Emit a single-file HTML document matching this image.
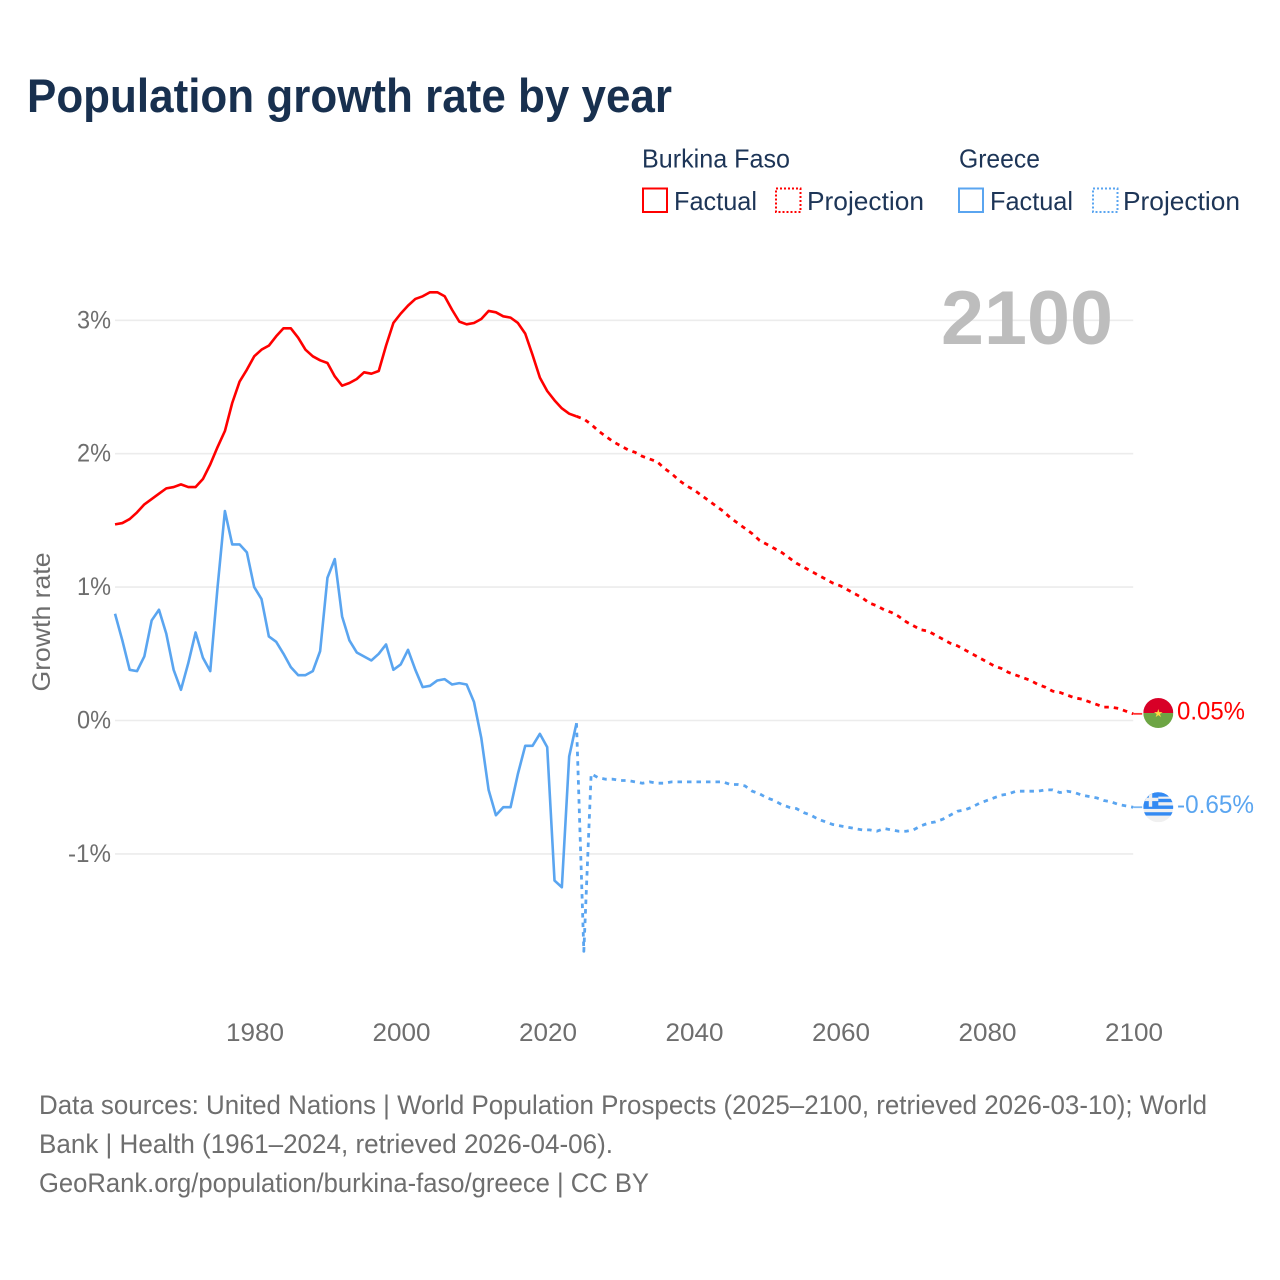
<!DOCTYPE html>
<html lang="en">
<head>
<meta charset="utf-8">
<title>Population growth rate by year</title>
<style>
html,body{margin:0;padding:0;background:#fff}
svg{display:block}
text{font-family:"Liberation Sans",sans-serif}
</style>
</head>
<body>
<svg id="chart" width="1280" height="1280" viewBox="0 0 1280 1280" xmlns="http://www.w3.org/2000/svg">
  <defs>
    <clipPath id="flag-clip-bf"><circle id="clip-bf" cx="1158" cy="713" r="15"></circle></clipPath>
    <clipPath id="flag-clip-gr"><circle id="clip-gr" cx="1158" cy="806" r="15"></circle></clipPath>
  </defs>
  <rect width="1280" height="1280" fill="#fff"></rect>
  <text x="27" y="112" font-size="47" font-weight="700" fill="#18304f" textLength="645" lengthAdjust="spacingAndGlyphs">Population growth rate by year</text>

  <g font-size="26" fill="#1d3557">
    <text x="642" y="167.5" textLength="148" lengthAdjust="spacingAndGlyphs">Burkina Faso</text>
    <text x="959" y="167.5" textLength="81" lengthAdjust="spacingAndGlyphs">Greece</text>
    <rect x="643" y="188.5" width="24" height="23.5" fill="none" stroke="#ff0000" stroke-width="2"></rect>
    <text x="674" y="210" textLength="83" lengthAdjust="spacingAndGlyphs">Factual</text>
    <rect x="776" y="188.5" width="24.5" height="23.5" fill="none" stroke="#ff0000" stroke-width="2" stroke-dasharray="2 2"></rect>
    <text x="807" y="210" textLength="117" lengthAdjust="spacingAndGlyphs">Projection</text>
    <rect x="959" y="188.5" width="24" height="23.5" fill="none" stroke="#5aa5f0" stroke-width="2"></rect>
    <text x="990" y="210" textLength="83" lengthAdjust="spacingAndGlyphs">Factual</text>
    <rect x="1093" y="188.5" width="24.5" height="23.5" fill="none" stroke="#5aa5f0" stroke-width="2" stroke-dasharray="2 2"></rect>
    <text x="1123" y="210" textLength="117" lengthAdjust="spacingAndGlyphs">Projection</text>
  </g>

  <g id="grid"></g>
  <g id="y-ticks"></g>
  <g id="x-ticks"></g>
  <text transform="translate(50,622) rotate(-90)" text-anchor="middle" font-size="25" fill="#6e6e6e" textLength="139" lengthAdjust="spacingAndGlyphs">Growth rate</text>
  <text x="941" y="344" font-size="76" font-weight="700" fill="#bdbdbd" textLength="172" lengthAdjust="spacingAndGlyphs">2100</text>

  <g id="series"></g>

  <g id="flag-bf" clip-path="url(#flag-clip-bf)"></g>
  <g id="flag-gr" clip-path="url(#flag-clip-gr)"></g>
  <g id="end-labels"></g>

  <g font-size="27" fill="#6e6e6e">
    <text x="39" y="1114" textLength="1168" lengthAdjust="spacingAndGlyphs">Data sources: United Nations | World Population Prospects (2025–2100, retrieved 2026-03-10); World</text>
    <text x="39" y="1153" textLength="574" lengthAdjust="spacingAndGlyphs">Bank | Health (1961–2024, retrieved 2026-04-06).</text>
    <text x="39" y="1192" textLength="610" lengthAdjust="spacingAndGlyphs">GeoRank.org/population/burkina-faso/greece | CC BY</text>
  </g>
</svg>

<script>
const factualStartYear = 1961;
const projectionStartYear = 2025;
const xTickYears = [1980, 2000, 2020, 2040, 2060, 2080, 2100];
const yTickValues = [3, 2, 1, 0, -1];
const yTickLabels = ["3%", "2%", "1%", "0%", "-1%"];

const burkinaFactual = [
  1.47,1.48,1.51,1.56,1.62,1.66,1.70,1.74,1.75,1.77,
  1.75,1.75,1.81,1.92,2.05,2.17,2.38,2.54,2.63,2.73,
  2.78,2.81,2.88,2.94,2.94,2.87,2.78,2.73,2.70,2.68,
  2.58,2.51,2.53,2.56,2.61,2.60,2.62,2.81,2.98,3.05,
  3.11,3.16,3.18,3.21,3.21,3.18,3.08,2.99,2.97,2.98,
  3.01,3.07,3.06,3.03,3.02,2.98,2.90,2.74,2.57,2.47,
  2.40,2.34,2.30,2.28
];
const burkinaProjection = [
  2.26,2.22,2.17,2.13,2.09,2.06,2.03,2.01,1.98,1.96,
  1.94,1.89,1.85,1.80,1.76,1.73,1.69,1.65,1.61,1.57,
  1.52,1.48,1.44,1.40,1.35,1.32,1.29,1.26,1.22,1.18,
  1.15,1.12,1.09,1.06,1.03,1.01,0.98,0.95,0.92,0.88,
  0.86,0.83,0.81,0.78,0.74,0.71,0.68,0.67,0.64,0.61,
  0.58,0.56,0.53,0.50,0.47,0.44,0.41,0.39,0.36,0.34,
  0.32,0.30,0.27,0.25,0.22,0.21,0.19,0.17,0.16,0.14,
  0.12,0.10,0.10,0.09,0.07,0.05
];
const greeceFactual = [
  0.80,0.60,0.38,0.37,0.48,0.75,0.83,0.65,0.38,0.23,
  0.43,0.66,0.47,0.37,1.00,1.57,1.32,1.32,1.26,1.00,
  0.91,0.63,0.59,0.50,0.40,0.34,0.34,0.37,0.52,1.07,
  1.21,0.78,0.60,0.51,0.48,0.45,0.50,0.57,0.38,0.42,
  0.53,0.38,0.25,0.26,0.30,0.31,0.27,0.28,0.27,0.14,
  -0.13,-0.52,-0.71,-0.65,-0.65,-0.40,-0.19,-0.19,-0.10,-0.20,
  -1.20,-1.25,-0.27,-0.02
];
const greeceProjection = [
  -1.73,-0.40,-0.43,-0.44,-0.44,-0.45,-0.45,-0.46,-0.47,-0.46,
  -0.47,-0.47,-0.46,-0.46,-0.46,-0.46,-0.46,-0.46,-0.46,-0.46,
  -0.48,-0.48,-0.49,-0.53,-0.55,-0.58,-0.60,-0.63,-0.65,-0.66,
  -0.69,-0.71,-0.74,-0.76,-0.78,-0.79,-0.80,-0.81,-0.82,-0.82,
  -0.83,-0.81,-0.82,-0.83,-0.83,-0.82,-0.79,-0.77,-0.76,-0.74,
  -0.71,-0.68,-0.67,-0.65,-0.62,-0.60,-0.58,-0.56,-0.55,-0.53,
  -0.53,-0.53,-0.53,-0.52,-0.52,-0.54,-0.53,-0.54,-0.56,-0.57,
  -0.58,-0.60,-0.61,-0.63,-0.64,-0.65
];

const SVG_NS = "http://www.w3.org/2000/svg";
const RED = "#ff0000";
const BLUE = "#5aa5f0";
const GREY = "#6e6e6e";

function xScale(year) { return 254.2 + (year - 1980) * 7.325; }
function yScale(value) { return 720.5 - value * 133.4; }
function make(tag) { return document.createElementNS(SVG_NS, tag); }
function toPoints(values, startYear) {
  return values.map(function (v, i) {
    return xScale(startYear + i).toFixed(2) + "," + yScale(v).toFixed(2);
  }).join(" ");
}
function drawSeries(el, values, startYear, color, dashed) {
  el.setAttribute("points", toPoints(values, startYear));
  el.setAttribute("fill", "none");
  el.setAttribute("stroke", color);
  el.setAttribute("stroke-width", dashed ? "2.8" : "2.6");
  el.setAttribute("stroke-linejoin", "round");
  if (dashed) el.setAttribute("stroke-dasharray", "4.5 5");
  document.getElementById("series").appendChild(el);
}
function fmtPct(v) { return v.toFixed(2) + "%"; }

/* gridlines and y ticks */
yTickValues.forEach(function (v, i) {
  const line = make("line");
  
  
  line.setAttribute("x1", xScale(1961));
  line.setAttribute("x2", xScale(2100));
  line.setAttribute("y1", yScale(v));
  line.setAttribute("y2", yScale(v));
  line.setAttribute("stroke", "#ececec");
  line.setAttribute("stroke-width", "1.6");
  document.getElementById("grid").appendChild(line);

  const t = make("text");
  
  
  t.setAttribute("x", 111);
  t.setAttribute("y", yScale(v) + 8);
  t.setAttribute("text-anchor", "end");
  t.setAttribute("font-size", "25");
  t.setAttribute("fill", GREY);
  t.setAttribute("textLength", v < 0 ? "43" : "34");
  t.setAttribute("lengthAdjust", "spacingAndGlyphs");
  t.textContent = yTickLabels[i];
  document.getElementById("y-ticks").appendChild(t);
});

/* x ticks */
xTickYears.forEach(function (yr) {
  const t = make("text");
  
  
  t.setAttribute("x", xScale(yr) + 0.8);
  t.setAttribute("y", 1041);
  t.setAttribute("text-anchor", "middle");
  t.setAttribute("font-size", "25");
  t.setAttribute("fill", GREY);
  t.setAttribute("textLength", "58");
  t.setAttribute("lengthAdjust", "spacingAndGlyphs");
  t.textContent = String(yr);
  document.getElementById("x-ticks").appendChild(t);
});

/* series */
const lastBf = burkinaFactual[burkinaFactual.length - 1];
const lastGrF = greeceFactual[greeceFactual.length - 1];
const endBf = burkinaProjection[burkinaProjection.length - 1];
const endGr = greeceProjection[greeceProjection.length - 1];

const lineBfFactual = make("polyline");


drawSeries(lineBfFactual, burkinaFactual, factualStartYear, RED, false);

const lineBfProj = make("polyline");


drawSeries(lineBfProj, [lastBf].concat(burkinaProjection), projectionStartYear - 1, RED, true);

const lineGrFactual = make("polyline");


drawSeries(lineGrFactual, greeceFactual, factualStartYear, BLUE, false);

const lineGrProj = make("polyline");


drawSeries(lineGrProj, [lastGrF].concat(greeceProjection), projectionStartYear - 1, BLUE, true);

/* connectors from line end to the flag */
function connector(el, v, color) {
  el.setAttribute("x1", xScale(2100));
  el.setAttribute("x2", xScale(2100) + 9);
  el.setAttribute("y1", yScale(v));
  el.setAttribute("y2", yScale(v));
  el.setAttribute("stroke", color);
  el.setAttribute("stroke-width", "1.8");
  el.setAttribute("stroke-opacity", "0.8");
  document.getElementById("series").appendChild(el);
}
const connBf = make("line");


connector(connBf, endBf, RED);
const connGr = make("line");


connector(connGr, endGr, BLUE);

/* flags */
const flagX = xScale(2100) + 25.1;
const bfY = yScale(endBf) - 0.8;
const grY = yScale(endGr);
document.getElementById("clip-bf").setAttribute("cx", flagX);
document.getElementById("clip-bf").setAttribute("cy", bfY);
document.getElementById("clip-gr").setAttribute("cx", flagX);
document.getElementById("clip-gr").setAttribute("cy", grY);

function rectIn(el, parent, x, y, w, h, fill) {
  el.setAttribute("x", x);
  el.setAttribute("y", y);
  el.setAttribute("width", w);
  el.setAttribute("height", h);
  el.setAttribute("fill", fill);
  parent.appendChild(el);
}
const flagBf = document.getElementById("flag-bf");
const bfTop = make("rect");


rectIn(bfTop, flagBf, flagX - 15, bfY - 15, 30, 15, "#d80027");
const bfBottom = make("rect");


rectIn(bfBottom, flagBf, flagX - 15, bfY, 30, 15, "#6da544");
const bfStar = make("text");


bfStar.setAttribute("x", flagX);
bfStar.setAttribute("y", bfY + 4);
bfStar.setAttribute("text-anchor", "middle");
bfStar.setAttribute("font-size", "11");
bfStar.setAttribute("fill", "#ffda44");
bfStar.style.fontFamily = '"DejaVu Sans",sans-serif';
bfStar.textContent = "★";
flagBf.appendChild(bfStar);

const flagGr = document.getElementById("flag-gr");
const grBase = make("rect");


rectIn(grBase, flagGr, flagX - 15, grY - 15, 30, 30, "#f0f0f0");
const grStripeOffsets = [-15, -8.4, -1.7, 5];
grStripeOffsets.forEach(function (off) {
  const s = make("rect");
  
  
  rectIn(s, flagGr, flagX - 15, grY + off, 30, 3.4, "#338af3");
});
const grTop = make("rect");


rectIn(grTop, flagGr, flagX - 15, grY - 15, 30, 4.4, "#338af3");
const grCanton = make("rect");


rectIn(grCanton, flagGr, flagX - 15, grY - 15, 15, 14.5, "#338af3");
const grCrossH = make("rect");


rectIn(grCrossH, flagGr, flagX - 15, grY - 9.5, 15, 3.4, "#f0f0f0");
const grCrossV = make("rect");


rectIn(grCrossV, flagGr, flagX - 9.5, grY - 15, 3.4, 14.5, "#f0f0f0");

/* end value labels */
function endLabel(el, v, y, color, w) {
  el.setAttribute("x", 1177);
  el.setAttribute("y", y);
  el.setAttribute("font-size", "25");
  el.setAttribute("fill", color);
  el.setAttribute("textLength", w);
  el.setAttribute("lengthAdjust", "spacingAndGlyphs");
  el.textContent = fmtPct(v);
  document.getElementById("end-labels").appendChild(el);
}
const labelBf = make("text");


endLabel(labelBf, endBf, bfY + 6.5, RED, 68);
const labelGr = make("text");


endLabel(labelGr, endGr, grY + 5.8, BLUE, 77);
</script>
</body>
</html>
